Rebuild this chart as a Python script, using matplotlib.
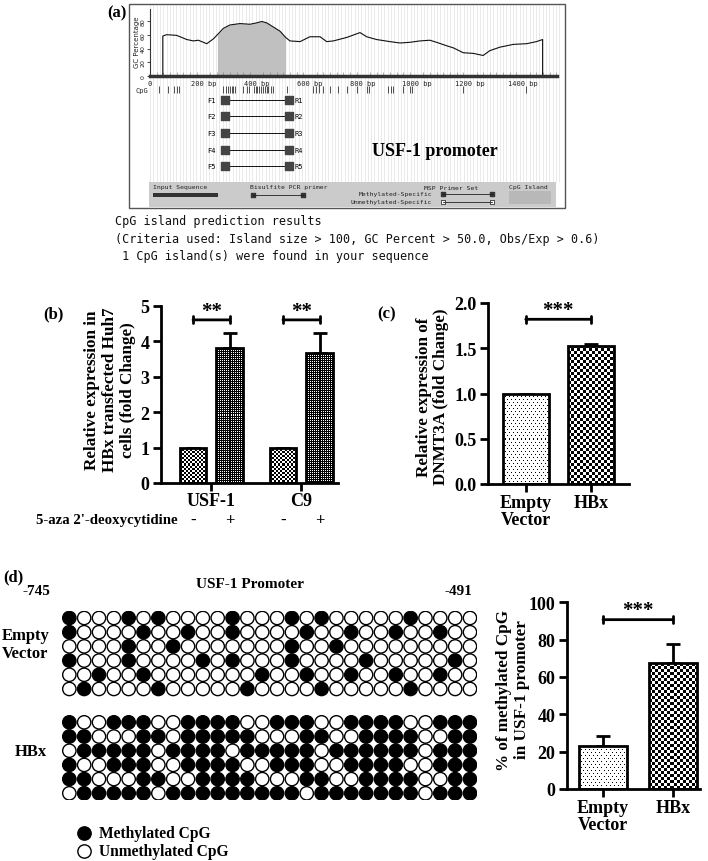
import numpy as np
import matplotlib
matplotlib.use("Agg")
import matplotlib.pyplot as plt
from matplotlib.transforms import blended_transform_factory as btf

SERIF = "Liberation Serif"
MONO = "DejaVu Sans Mono"

# ---------------- data ----------------
# (a) GC percentage profile of the USF-1 promoter
gc_bp = [48, 48, 63, 100, 138, 163, 181, 194, 213, 238, 253, 275, 300, 338, 375, 400, 419, 438, 463, 488,
         509, 525, 563, 600, 638, 663, 688, 738, 788, 813, 850, 900, 938, 975, 1013, 1050, 1075, 1113, 1138,
         1175, 1213, 1250, 1275, 1313, 1363, 1413, 1450, 1473, 1473]
gc_pct = [0, 58, 60, 59, 53, 51, 52, 50, 47, 54, 60, 69, 74, 76, 75, 77, 79, 77, 71, 65,
          56, 51, 50, 57, 57, 50, 51, 56, 63, 57, 53, 50, 48, 49, 51, 52, 49, 44, 41,
          34, 33, 30, 37, 42, 46, 47, 50, 53, 0]
island_bp = (253, 509)
cpg_bp = [35, 69, 90, 100, 108, 275, 285, 294, 300, 306, 313, 319, 350, 363, 373, 390, 398, 403, 410,
          417, 423, 431, 438, 444, 453, 463, 513, 613, 623, 635, 648, 675, 707, 738, 775, 813, 823,
          894, 904, 913, 948, 976, 982, 1176, 1411]
gc_ticks = [0, 200, 400, 600, 800, 1000, 1200, 1400]
primer_ids = ["1", "2", "3", "4", "5"]
primer_fwd_bp = 283
primer_rev_bp = 523

# (b) relative expression with 5-aza treatment
b_genes = ["USF-1", "C9"]
b_treat = ["-", "+", "-", "+"]
b_vals = [1.0, 3.82, 1.0, 3.67]
b_err = [0.0, 0.40, 0.0, 0.57]

# (c) DNMT3A expression
c_cats = ["Empty\nVector", "HBx"]
c_vals = [1.0, 1.53]
c_err = [0.0, 0.02]

# (d) bisulfite sequencing (1 = methylated CpG)
empty_rows = ["1000101000010001010000010000",
              "1000010010010000100100100100",
              "0000100100000001001000000000",
              "1000100001010001000010000010",
              "0010010000000100100100100100",
              "0100001000001000010000010000"]
hbx_rows = ["1001110011110011100111100111",
            "1100011011111000110011110011",
            "0111110111101111101111110111",
            "1001110011110011100111100111",
            "1100011001111000110011110011",
            "0111110111111111011111110111"]
d_cats = ["Empty\nVector", "HBx"]
d_vals = [22.8, 67.3]
d_err = [5.5, 10.5]

# ---------------- figure ----------------
W, H = 708, 862
fig = plt.figure(figsize=(W / 100, H / 100), dpi=100)


def add_ax(l, t, r, b):
    ax = fig.add_axes([l / W, 1 - b / H, (r - l) / W, (b - t) / H])
    ax.set_facecolor("none")
    return ax


bg = add_ax(0, 0, W, H)
bg.set_xlim(0, W)
bg.set_ylim(H, 0)
bg.axis("off")

bold = dict(family=SERIF, fontweight="bold")

# ---- panel (a) frame ----
bg.vlines(np.arange(150, 562, 3.3), 6, 183, color="#e2e2e2", lw=0.5, zorder=0)
bg.add_patch(plt.Rectangle((129, 5), 436, 204, fill=False, ec="#555555", lw=1.0))
bg.add_patch(plt.Rectangle((149, 183), 407, 25, fc="#cbcbcb", ec="none"))
bg.text(117, 13, "(a)", fontsize=12, ha="center", va="center", **bold)
bg.text(137, 42, "GC Percentage", rotation=90, fontsize=5, ha="center", va="center", color="#222")
bg.text(148, 91, "CpG", fontsize=5, ha="right", va="center", family=MONO, color="#222")
# legend band
mono_s = dict(family=MONO, fontsize=4.6, color="#222", va="center")
bg.text(153, 188, "Input Sequence", ha="left", **mono_s)
bg.add_patch(plt.Rectangle((153, 194), 65, 3.5, fc="#333", ec="none"))
bg.text(250, 188, "Bisulfite PCR primer", ha="left", **mono_s)
bg.plot([253, 303], [196, 196], color="#222", lw=0.6)
bg.scatter([253, 303], [196, 196], marker="s", s=9, c="#333")
bg.text(478, 188, "MSP Primer Set", ha="right", **mono_s)
bg.text(432, 195, "Methylated-Specific", ha="right", **mono_s)
bg.text(432, 203, "Unmethylated-Specific", ha="right", **mono_s)
bg.plot([443, 492], [195, 195], color="#222", lw=0.6)
bg.scatter([443, 492], [195, 195], marker="s", s=9, c="#333")
bg.plot([443, 492], [203, 203], color="#222", lw=0.6)
bg.scatter([443, 492], [203, 203], marker="s", s=9, facecolors="white", edgecolors="#333", linewidths=0.6)
bg.text(509, 188, "CpG Island", ha="left", **mono_s)
bg.add_patch(plt.Rectangle((509, 192), 42, 13, fc="#b8b8b8", ec="none"))
bg.text(435, 152, "USF-1 promoter", fontsize=13, ha="center", va="center", **bold)

# GC plot
gca_ = add_ax(150, 10, 557, 77.3)
gca_.set_xlim(0, 1527)
gca_.set_ylim(0, 97)
x_arr = np.array(gc_bp)
y_arr = np.array(gc_pct)
gca_.fill_between(x_arr, 0, y_arr, where=(x_arr >= island_bp[0]) & (x_arr <= island_bp[1]),
                  color="#c0c0c0", lw=0, zorder=1)
gca_.plot(x_arr, y_arr, color="#111", lw=0.8, zorder=2)
for s in ["top", "right"]:
    gca_.spines[s].set_visible(False)
gca_.spines["left"].set_linewidth(0.8)
gca_.spines["left"].set_color("#333")
gca_.spines["bottom"].set_linewidth(2.5)
gca_.spines["bottom"].set_color("#333")
gca_.set_yticks([0, 20, 40, 60, 80])
gca_.set_yticklabels(["0", "20", "40", "60", "80"], rotation=90, va="center", fontsize=4.5, color="#222")
gca_.tick_params(axis="y", length=2, width=0.5, pad=1)
gca_.set_xticks(gc_ticks)
gca_.set_xticklabels(["0"] + [f"{t} bp" for t in gc_ticks[1:]], fontsize=5, family=MONO, color="#222")
gca_.tick_params(axis="x", length=0, pad=3)
gca_.set_xticks(np.arange(0, 1527, 25), minor=True)
gca_.tick_params(axis="x", which="minor", direction="in", length=3, width=0.4, color="#777")

# CpG sites and primers
dg = add_ax(150, 80, 557, 182)
dg.set_xlim(0, 1527)
dg.set_ylim(182, 80)
dg.axis("off")
dg.vlines(cpg_bp, 87, 94, color="#333", lw=0.6)
rows_y = [101, 117, 134, 151, 167]
for pid, yy in zip(primer_ids, rows_y):
    dg.plot([primer_fwd_bp, primer_rev_bp], [yy, yy], color="#111", lw=0.7)
    dg.text(primer_fwd_bp - 35, yy, "F" + pid, ha="right", va="center", family=MONO, fontsize=5)
    dg.text(primer_rev_bp + 18, yy, "R" + pid, ha="left", va="center", family=MONO, fontsize=5)
dg.scatter([primer_fwd_bp] * len(rows_y), rows_y, marker="s", s=28, c="#444", zorder=3)
dg.scatter([primer_rev_bp] * len(rows_y), rows_y, marker="s", s=28, c="#444", zorder=3)

mono_l = dict(family=MONO, fontsize=8.5, va="center", ha="left", color="#111")
bg.text(115, 222, "CpG island prediction results", **mono_l)
bg.text(115, 240, "(Criteria used: Island size > 100, GC Percent > 50.0, Obs/Exp > 0.6)", **mono_l)
bg.text(115, 257, " 1 CpG island(s) were found in your sequence", **mono_l)


# ---------------- bar helpers ----------------
def pattern(kind, i, j):
    if kind == "light":
        return ((i // 2 + j // 2) % 2 == 0)
    if kind == "dark":
        return ((i + j) % 2 == 0) | (i % 2 == 0)
    if kind == "dots":
        return (i % 3 == 0) & ((j + 2 * ((i // 3) % 2)) % 4 == 0)
    if kind == "check":
        return ((i // 3 + j // 3) % 2 == 0)
    return np.zeros_like(i, dtype=bool)


def pattern_bars(ax, xs, vals, width, kinds, err, xlim, ylim):
    ax.set_xlim(*xlim)
    ax.set_ylim(*ylim)
    bars = ax.bar(xs, vals, width=width, color="white", lw=0, zorder=2)
    for bar, kind in zip(bars, kinds):
        x0, y0 = bar.get_x(), bar.get_y()
        w, h = bar.get_width(), bar.get_height()
        p0 = ax.transData.transform((x0, y0))
        p1 = ax.transData.transform((x0 + w, y0 + h))
        nx = max(1, int(round(abs(p1[0] - p0[0]))))
        ny = max(1, int(round(abs(p1[1] - p0[1]))))
        i, j = np.mgrid[0:ny, 0:nx]
        img = np.where(pattern(kind, i, j), 0.0, 1.0)
        im = ax.imshow(img, cmap="gray", vmin=0, vmax=1, extent=(x0, x0 + w, y0, y0 + h),
                       origin="upper", interpolation="nearest", aspect="auto", zorder=2.1)
        im.set_clip_path(bar)
    ax.errorbar(xs, vals, yerr=[np.zeros(len(vals)), err], fmt="none", ecolor="black",
                elinewidth=2, capsize=5, capthick=2, zorder=1.5)
    ax.bar(xs, vals, width=width, facecolor="none", edgecolor="black", lw=2, zorder=3)
    ax.set_xlim(*xlim)
    ax.set_ylim(*ylim)
    ax.set_aspect("auto")
    for s in ["top", "right"]:
        ax.spines[s].set_visible(False)
    for s in ["left", "bottom"]:
        ax.spines[s].set_linewidth(2)
    ax.tick_params(axis="both", length=6, width=2, labelsize=12.5)
    ax.tick_params(axis="x", pad=1.5)
    ax.tick_params(axis="y", pad=2)


def style_labels(ax):
    for lab in ax.get_xticklabels() + ax.get_yticklabels():
        lab.set_family(SERIF)
        lab.set_fontweight("bold")
        lab.set_fontsize(13)


def bracket(ax, x0, x1, y, stars, ystar):
    ax.annotate("", xy=(x0, y), xytext=(x1, y),
                arrowprops=dict(arrowstyle="|-|,widthA=0.25,widthB=0.25", lw=2, color="black",
                                shrinkA=0, shrinkB=0))
    ax.text((x0 + x1) / 2, ystar, stars, ha="center", va="center", fontsize=15, **bold)


# ---- panel (b) ----
axb = add_ax(160.7, 306.7, 338, 484)
b_x = [0.0, 1.0, 2.45, 3.45]
pattern_bars(axb, b_x, b_vals, 0.72, ["light", "dark", "light", "dark"], b_err, (-0.88, 3.95), (0, 5))
axb.set_yticks([0, 1, 2, 3, 4, 5])
axb.set_xticks([0.5, 2.95])
axb.set_xticklabels(b_genes)
axb.tick_params(axis="x", pad=0.5)
style_labels(axb)
bracket(axb, b_x[0], b_x[1], 4.6, "**", 4.85)
bracket(axb, b_x[2], b_x[3], 4.6, "**", 4.85)
tb = btf(axb.transData, bg.transData)
for xx, t in zip(b_x, b_treat):
    axb.text(xx, 521, t, transform=tb, ha="center", va="center", fontsize=12, clip_on=False, **bold)
bg.text(178, 521, "5-aza 2'-deoxycytidine", ha="right", va="center", fontsize=10.7, **bold)
bg.text(53, 314, "(b)", ha="center", va="center", fontsize=12, **bold)
bg.text(110, 390, "Relative expression in\nHBx transfected Huh7\ncells (fold Change)", rotation=90,
        ha="center", va="center", fontsize=12.3, linespacing=1.15, **bold)

# ---- panel (c) ----
axc = add_ax(488, 304, 628.7, 485)
c_x = [0.0, 1.0]
pattern_bars(axc, c_x, c_vals, 0.70, ["dots", "check"], c_err, (-0.58, 1.58), (0, 2))
axc.set_yticks([0, 0.5, 1.0, 1.5, 2.0])
axc.set_yticklabels(["0.0", "0.5", "1.0", "1.5", "2.0"])
axc.set_xticks(c_x)
axc.set_xticklabels(c_cats, linespacing=0.95)
style_labels(axc)
bracket(axc, c_x[0], c_x[1], 1.82, "***", 1.92)
bg.text(387, 314, "(c)", ha="center", va="center", fontsize=12, **bold)
bg.text(432.5, 397, "Relative expression of\nDNMT3A (fold Change)", rotation=90,
        ha="center", va="center", fontsize=12.3, linespacing=1.15, **bold)

# ---- panel (d) methylation grid ----
mg = add_ax(61.9, 611.9, 477.4, 801.4)
mg.set_xlim(-0.5, 27.5)
mg.set_ylim(12.85, -0.5)
mg.axis("off")
for rows, y_off in [(empty_rows, 0.0), (hbx_rows, 7.35)]:
    arr = np.array([[int(c) for c in r] for r in rows])
    yy, xx = np.nonzero(np.ones_like(arr))
    fc = np.where(arr[yy, xx] == 1, "black", "white")
    mg.scatter(xx, yy + y_off, s=92, facecolors=fc, edgecolors="black", linewidths=1.0)
bg.text(13, 577, "(d)", ha="center", va="center", fontsize=12, **bold)
bg.text(36, 592, "-745", ha="center", va="center", fontsize=11, **bold)
bg.text(458, 592, "-491", ha="center", va="center", fontsize=11, **bold)
bg.text(250, 585, "USF-1 Promoter", ha="center", va="center", fontsize=11, **bold)
bg.text(2, 645, "Empty\nVector", ha="left", va="center", fontsize=12, linespacing=1.1, **bold)
bg.text(15, 752, "HBx", ha="left", va="center", fontsize=12, **bold)
bg.scatter([84], [834], s=92, c="black", edgecolors="black", linewidths=1.0)
bg.scatter([84], [852], s=92, facecolors="white", edgecolors="black", linewidths=1.0)
bg.text(99, 834, "Methylated CpG", ha="left", va="center", fontsize=11.2, **bold)
bg.text(99, 852, "Unmethylated CpG", ha="left", va="center", fontsize=11.2, **bold)

# ---- panel (d) bar chart ----
axd = add_ax(566.7, 603.3, 700, 790)
d_x = [0.0, 1.0]
pattern_bars(axd, d_x, d_vals, 0.68, ["dots", "check"], d_err, (-0.52, 1.39), (0, 100))
axd.set_yticks([0, 20, 40, 60, 80, 100])
axd.set_xticks(d_x)
axd.set_xticklabels(d_cats, linespacing=0.95)
style_labels(axd)
bracket(axd, d_x[0], d_x[1], 90.7, "***", 96.0)
bg.text(513, 690, "% of methylated CpG\nin USF-1 promoter", rotation=90,
        ha="center", va="center", fontsize=12.3, linespacing=1.15, **bold)

fig.savefig("out.png", dpi=100)
